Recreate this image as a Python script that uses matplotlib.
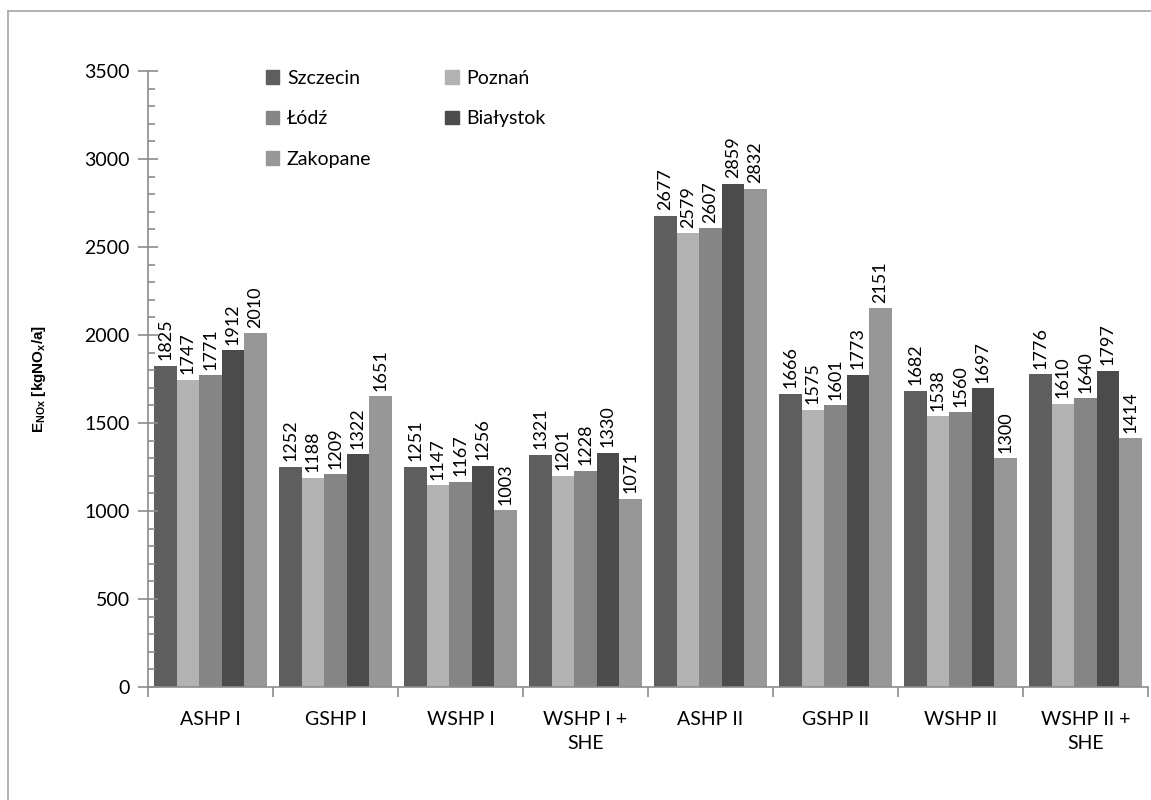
import numpy as np
import matplotlib
matplotlib.use("Agg")
import matplotlib.pyplot as plt
from matplotlib.lines import Line2D
from matplotlib.patches import Patch

plt.rcParams["font.family"] = ["Lato", "DejaVu Sans"]

categories = ["ASHP I", "GSHP I", "WSHP I", "WSHP I +\nSHE",
              "ASHP II", "GSHP II", "WSHP II", "WSHP II +\nSHE"]
cities = ["Szczecin", "Poznań", "Łódź", "Białystok", "Zakopane"]
szczecin = [1825, 1252, 1251, 1321, 2677, 1666, 1682, 1776]
poznan = [1747, 1188, 1147, 1201, 2579, 1575, 1538, 1610]
lodz = [1771, 1209, 1167, 1228, 2607, 1601, 1560, 1640]
bialystok = [1912, 1322, 1256, 1330, 2859, 1773, 1697, 1797]
zakopane = [2010, 1651, 1003, 1071, 2832, 2151, 1300, 1414]
series = [szczecin, poznan, lodz, bialystok, zakopane]
colors = ["#5e5e5e", "#b2b2b2", "#858585", "#4b4b4b", "#979797"]

fig = plt.figure(figsize=(11.51, 8), dpi=100)
ax = fig.add_axes([148 / 1151, 1 - 687 / 800, 1000 / 1151, 616 / 800])

# outer frame (only left/top visible in the original)
frame_col = "#a6a6a6"
fig.add_artist(Line2D([8 / 1151, 8 / 1151], [0, 1 - 11 / 800], transform=fig.transFigure, color=frame_col, lw=1.2))
fig.add_artist(Line2D([8 / 1151, 1], [1 - 11 / 800, 1 - 11 / 800], transform=fig.transFigure, color=frame_col, lw=1.2))

x = np.arange(len(categories))
bw = 0.18
for i, (vals, col) in enumerate(zip(series, colors)):
    pos = x + (i - 2) * bw
    ax.bar(pos, vals, width=bw, color=col, edgecolor="none")
    for px, v in zip(pos, vals):
        ax.annotate(str(v), (px, v), xytext=(0, 4), textcoords="offset points",
                    rotation=90, ha="center", va="bottom", fontsize=13)

ax.set_xlim(-0.5, len(categories) - 0.5)
ax.set_ylim(0, 3500)
ax.set_yticks(np.arange(0, 3501, 500))
ax.set_yticks(np.arange(0, 3501, 100), minor=True)
ax.tick_params(axis="y", which="major", direction="inout", length=14, width=1.2,
               color="#8c8c8c", labelsize=14, pad=6)
ax.tick_params(axis="y", which="minor", direction="in", length=5, width=1.2, color="#8c8c8c")

ax.set_xticks(np.arange(-0.5, len(categories)), minor=False)
ax.set_xticklabels([])
ax.set_xticks(x, minor=True)
ax.set_xticklabels(categories, minor=True, linespacing=1.5)
ax.tick_params(axis="x", which="major", direction="out", length=7, width=1.2, color="#8c8c8c")
ax.tick_params(axis="x", which="minor", length=0, labelsize=14, pad=17)

for s in ["top", "right"]:
    ax.spines[s].set_visible(False)
for s in ["left", "bottom"]:
    ax.spines[s].set_color("#8c8c8c")
    ax.spines[s].set_linewidth(1.2)

ax.set_ylabel(r"E$_{\mathregular{NOx}}$ [kgNO$_{\mathregular{x}}$/a]", family="Liberation Sans",
              fontweight="bold", fontsize=11, labelpad=26)

handles = [Patch(color=c) for c in colors]
order = [0, 2, 4, 1, 3]
ax.legend([handles[i] for i in order], [cities[i] for i in order], ncol=2,
          loc="upper left", bbox_to_anchor=(0.1, 1.03), frameon=False, fontsize=14,
          handlelength=0.7, handleheight=0.7, handletextpad=0.4, labelspacing=1.2,
          columnspacing=3.8)

fig.savefig("out.png", dpi=100)
